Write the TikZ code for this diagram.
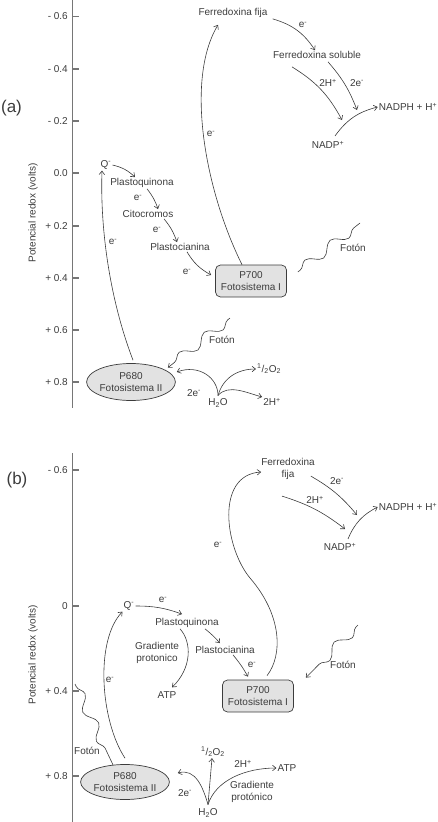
\documentclass[tikz,border=0pt]{standalone}
\usepackage{fontspec}
\setmainfont{Liberation Sans}
\usetikzlibrary{arrows.meta,shapes.geometric,decorations.pathmorphing}
\definecolor{ink}{HTML}{3C3C3C}
\definecolor{axisgray}{HTML}{767676}
\definecolor{boxgray}{HTML}{E2E2E2}

\begin{document}
\begin{tikzpicture}[x=1pt,y=-1pt,
  every node/.style={font=\fontsize{10}{12.5}\selectfont,text=ink,inner sep=1pt},
  flow/.style={draw=ink,line width=0.6pt,-{Straight Barb[length=3.5pt,width=5.5pt]}},
  photon/.style={draw=ink,line width=0.6pt,decorate,
    decoration={snake,segment length=32pt,amplitude=5pt,pre length=3pt,post length=5pt}},
  psbox/.style={draw=ink,fill=boxgray,line width=0.7pt,rounded corners=5pt,
    minimum width=71pt,minimum height=32pt,align=center},
  pscell/.style={ellipse,draw=ink,fill=boxgray,line width=0.7pt,
    minimum width=82pt,minimum height=37pt,inner sep=0pt,align=center},
  axisline/.style={draw=axisgray,line width=1.2pt},
  paneltag/.style={font=\fontsize{17}{20}\selectfont}]
  \useasboundingbox (0,0) rectangle (437,822);

  % panel (a): axis
  \draw[axisline] (72.5,0) -- (72.5,408);
  \foreach \v/\lab [count=\i] in {16.5/- 0.6,69/- 0.4,121/- 0.2,173/0.0,226/+ 0.2,278/+ 0.4,330/+ 0.6,382/+ 0.8}{
    \draw[axisline] (72.5,\v) -- (79,\v);
    \node[anchor=east] (tka\i) at (69,\v) {\lab};
  }
  \node[rotate=90] (ylab_a) at (33,213) {Potencial redox (volts)};
  \node[paneltag] (tag_a) at (11.5,108) {(a)};

  % panel (a): carriers
  \node (q_a) at (106,165) {Q\textsuperscript{-}};
  \node (pq_a) at (142,183) {Plastoquinona};
  \node (cit_a) at (148,214) {Citocromos};
  \node (pc_a) at (180,247) {Plastocianina};
  \node[psbox] (p700_a) at (251,281) {P700\\Fotosistema I};
  \node (fdf_a) at (233,13) {Ferredoxina fija};
  \node (fds_a) at (317,55) {Ferredoxina soluble};
  \node (nadp_a) at (328,145) {NADP\textsuperscript{+}};
  \node (nadph_a) at (408,107) {NADPH + H\textsuperscript{+}};
  \node[pscell] (p680_a) at (131,382) {P680\\Fotosistema II};
  \node (h2o_a) at (218,403) {H\textsubscript{2}O};
  \node[anchor=west] (o2_a) at (256,369) {\textsuperscript{1}/\textsubscript{2}O\textsubscript{2}};
  \node (hh_a) at (272,402) {2H\textsuperscript{+}};

  % panel (a): labels on arrows
  \node (e1_a) at (138,198) {e\textsuperscript{-}};
  \node (e2_a) at (157,230) {e\textsuperscript{-}};
  \node (e3_a) at (187,272) {e\textsuperscript{-}};
  \node (e4_a) at (211,134) {e\textsuperscript{-}};
  \node (e5_a) at (303,25) {e\textsuperscript{-}};
  \node (e6_a) at (113,242) {e\textsuperscript{-}};
  \node (hhf_a) at (328,83) {2H\textsuperscript{+}};
  \node (eef_a) at (357,83) {2e\textsuperscript{-}};
  \node (eeh_a) at (194,393) {2e\textsuperscript{-}};
  \node (fot1_a) at (353,248) {Fotón};
  \node (fot2_a) at (222,340) {Fotón};

  % panel (a): connectors
  \draw[flow] (q_a.east) to[bend left=15] ([xshift=-7pt]pq_a.north);
  \draw[flow] ([xshift=5pt]pq_a.south) to[bend left=10] ([xshift=10pt]cit_a.north);
  \draw[flow] ([xshift=16pt]cit_a.south) to[bend left=10] ([xshift=-3pt]pc_a.north);
  \draw[flow] ([xshift=7pt]pc_a.south) to[bend right=15] ([xshift=-4pt,yshift=6pt]p700_a.west);
  \draw[flow] ([xshift=-9pt]p700_a.north) .. controls (205,190) and (185,80) .. ([xshift=-15pt,yshift=-6pt]fdf_a.south);
  \draw[flow] ([xshift=4pt]fdf_a.south east) to[bend left=20] ([xshift=-2pt]fds_a.north);
  \coordinate (j1_a) at (342,120);
  \coordinate (j2_a) at (357,110);
  \draw[flow] ([xshift=-25pt,yshift=-7pt]fds_a.south) to[bend left=15] (j1_a);
  \draw[flow] ([xshift=11pt,yshift=-2pt]fds_a.south) to[bend left=10] (j2_a);
  \draw[flow] ([xshift=7pt,yshift=4pt]nadp_a.north) to[bend left=20] (nadph_a.west);
  \draw[flow] ([xshift=2pt,yshift=3pt]p680_a.north) .. controls (110,300) and (100,230) .. ([xshift=-4pt]q_a.south);
  \draw[flow] ([yshift=2pt]h2o_a.north) .. controls +(0,-18) and +(22,-8) .. ([xshift=1pt,yshift=10pt]p680_a.east);
  \draw[flow] ([yshift=2pt]h2o_a.north) .. controls +(5,-18) and +(-18,0) .. (o2_a.west);
  \draw[flow] ([yshift=2pt]h2o_a.north) .. controls +(10,-12) and +(-15,-4) .. (hh_a.north west);

  % panel (a): light
  \coordinate (ph1_a) at (360,223);
  \coordinate (ph2_a) at (230,318);
  \draw[photon] ([xshift=11pt,yshift=9pt]p700_a.east) -- (ph1_a);
  \draw[flow,photon] (ph2_a) -- ([xshift=3pt,yshift=2pt]p680_a.20);

  % panel (b): axis
  \draw[axisline] (72.5,453) -- (72.5,822);
  \foreach \v/\lab [count=\i] in {470/- 0.6,606/0,691/+ 0.4,776/+ 0.8}{
    \draw[axisline] (72.5,\v) -- (79,\v);
    \node[anchor=east] (tkb\i) at (69,\v) {\lab};
  }
  \node[rotate=90] (ylab_b) at (33,655) {Potencial redox (volts)};
  \node[paneltag] (tag_b) at (17,480) {(b)};

  % panel (b): carriers
  \node (q_b) at (129,606) {Q\textsuperscript{-}};
  \node (pq_b) at (187,623) {Plastoquinona};
  \node (pc_b) at (225,650) {Plastocianina};
  \node[psbox] (p700_b) at (258,696) {P700\\Fotosistema I};
  \node[align=center] (fdf_b) at (288,469) {Ferredoxina\\fija};
  \node (nadp_b) at (340,547) {NADP\textsuperscript{+}};
  \node (nadph_b) at (408,507) {NADPH + H\textsuperscript{+}};
  \node[align=center] (grad_b) at (157,653) {Gradiente\\protonico};
  \node (atp_b) at (167,695) {ATP};
  \node[pscell,minimum width=78pt,minimum height=35pt] (p680_b) at (125,782) {P680\\Fotosistema II};
  \node (h2o_b) at (208,813) {H\textsubscript{2}O};
  \node (o2_b) at (213,752) {\textsuperscript{1}/\textsubscript{2}O\textsubscript{2}};
  \node (atp2_b) at (287,768) {ATP};
  \node[align=center] (gp_b) at (252,792) {Gradiente\\protónico};

  % panel (b): labels on arrows
  \node (e1_b) at (163,600) {e\textsuperscript{-}};
  \node (e2_b) at (252,665) {e\textsuperscript{-}};
  \node (e3_b) at (218,545) {e\textsuperscript{-}};
  \node (e4_b) at (110,680) {e\textsuperscript{-}};
  \node (eef_b) at (337,481) {2e\textsuperscript{-}};
  \node (hhf_b) at (315,500) {2H\textsuperscript{+}};
  \node (eeh_b) at (185,793) {2e\textsuperscript{-}};
  \node (hh_b) at (243,764) {2H\textsuperscript{+}};
  \node (fot1_b) at (343,665) {Fotón};
  \node (fot2_b) at (87,751) {Fotón};

  % panel (b): connectors
  \draw[flow] (q_b.east) to[bend left=10] ([xshift=-5pt,yshift=3pt]pq_b.north);
  \draw[flow] ([xshift=18pt]pq_b.south) to[bend left=5] ([xshift=-5pt,yshift=2pt]pc_b.north);
  \draw[flow] ([xshift=8pt]pc_b.south) to[bend left=5] ([xshift=-10pt,yshift=3pt]p700_b.north);
  \draw[flow] ([xshift=9pt,yshift=4pt]p700_b.north) .. controls (283,655) and (282,615) .. (250,578)
    .. controls (225,548) and (215,475) .. ([xshift=1pt,yshift=-3pt]fdf_b.west);
  \coordinate (j1_b) at (357,515);
  \coordinate (j2_b) at (345,529);
  \draw[flow] ([xshift=-5pt,yshift=5pt]fdf_b.south east) to[bend left=10] (j1_b);
  \draw[flow] ([xshift=-6pt,yshift=-15pt]fdf_b.south) to[bend left=10] (j2_b);
  \draw[flow] ([xshift=8pt,yshift=3pt]nadp_b.north) to[bend left=20] (nadph_b.west);
  \draw[flow] ([xshift=-7pt]pq_b.south) .. controls (192,642) and (192,668) .. ([xshift=5pt,yshift=3pt]atp_b.north);
  \draw[flow] ([yshift=6pt]p680_b.north) .. controls (100,720) and (95,640) .. (q_b.south west);
  \draw[flow] ([yshift=3pt]h2o_b.north) .. controls +(-5,-17) and +(18,-5) .. ([xshift=8pt,yshift=9pt]p680_b.east);
  \draw[flow] ([yshift=3pt]h2o_b.north) -- ([xshift=-1pt]o2_b.south);
  \draw[flow] ([yshift=3pt]h2o_b.north) .. controls +(8,-25) and +(-30,0) .. (atp2_b.west);

  % panel (b): light
  \coordinate (ph1_b) at (358,625);
  \coordinate (ph2_b) at (75,684);
  \draw[flow,photon] (ph1_b) -- ([xshift=12pt,yshift=2pt]p700_b.north east);
  \draw[photon] (ph2_b) -- (p680_b.125);
\end{tikzpicture}
\end{document}
